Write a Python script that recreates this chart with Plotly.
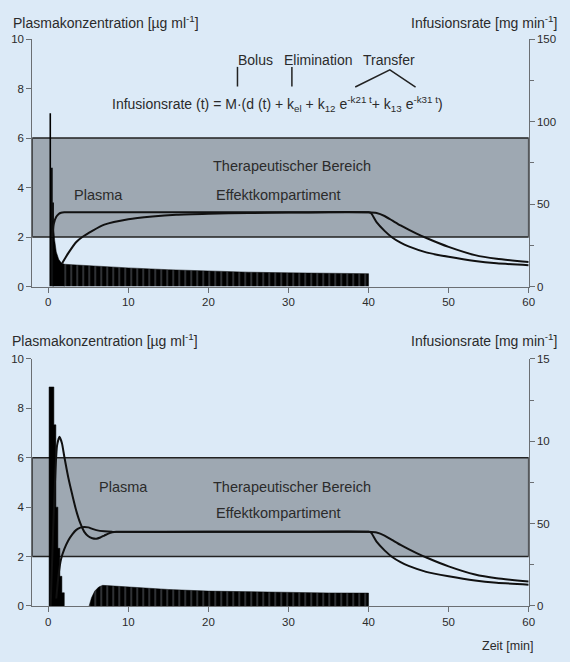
import plotly.graph_objects as go

# ---------------- data ----------------
# Top panel: bolus + infusion scheme
top_spike_t = [0.25, 0.45, 0.6]            # min
top_spike_rate = [105, 72, 51]              # mg/min
top_inf_t = [0.6, 0.8, 1.0, 1.3, 1.6, 2.0]
top_inf_rate = [40, 28, 21, 16.5, 14.5, 13.5]
top_cont_t = [2.0, 3, 5, 10, 15, 20, 25, 30, 35, 40, 40]
top_cont_rate = [13.5, 13.2, 12.6, 11.3, 10.2, 9.3, 8.7, 8.3, 8.0, 7.8, 0]

top_plasma_t = [0.5, 0.7, 1.0, 1.3, 1.6, 2.0, 5, 10, 20, 30, 40, 40.3, 41, 42, 43, 44, 45, 47.2, 50, 53.3, 56, 60]
top_plasma_c = [2.0, 2.55, 2.82, 2.93, 2.98, 3.0, 3.0, 3.0, 3.0, 3.0, 3.0, 2.97, 2.6, 2.25, 1.97, 1.77, 1.62, 1.38, 1.2, 1.03, 0.94, 0.86]
top_effect_t = [1.75, 2.5, 3.5, 4.25, 5.5, 7, 10, 13, 16, 20, 25, 30, 35, 40, 41, 42, 43, 44, 45, 46, 47.3, 50, 53.3, 56, 60]
top_effect_c = [0.95, 1.35, 1.8, 2.0, 2.25, 2.5, 2.72, 2.83, 2.9, 2.94, 2.97, 2.99, 3.0, 3.0, 2.97, 2.85, 2.66, 2.47, 2.3, 2.14, 1.95, 1.6, 1.27, 1.12, 0.99]

# Bottom panel: stepped loading infusion, pause, maintenance infusion
bot_load_t = [0.1, 0.7, 0.95, 1.2, 1.45, 1.7, 2.0]
bot_load_rate = [133, 110, 60, 35, 18, 8, 0]
bot_cont_t = [5.1, 5.4, 5.8, 6.3, 6.8, 7.5, 10, 15, 20, 25, 30, 35, 40, 40]
bot_cont_rate = [0, 5, 9, 11.5, 12.5, 12.3, 11.4, 10, 9, 8.5, 8.1, 7.9, 7.8, 0]

bot_plasma_t = [0.3, 0.6, 0.9, 1.1, 1.4, 1.7, 2.0, 2.5, 3.0, 3.5, 4.0, 4.5, 5.0, 5.5, 6.0, 6.5, 7.0, 7.5, 8.0, 8.5, 20, 30, 40, 40.3, 41, 42, 43, 44, 45, 47.2, 50, 53.3, 56, 60]
bot_plasma_c = [0.0, 3.0, 5.5, 6.5, 6.85, 6.6, 6.05, 5.2, 4.5, 3.85, 3.35, 3.0, 2.82, 2.74, 2.72, 2.77, 2.85, 2.93, 2.98, 3.0, 3.0, 3.0, 3.0, 2.97, 2.6, 2.25, 1.97, 1.77, 1.62, 1.38, 1.2, 1.03, 0.94, 0.86]
bot_effect_t = [1.0, 1.3, 1.6, 2.0, 2.5, 3.0, 3.5, 4.0, 4.5, 5.0, 5.5, 6.0, 7.0, 8.0, 20, 30, 40, 41, 42, 43, 44, 45, 46, 47.3, 50, 53.3, 56, 60]
bot_effect_c = [0.3, 1.3, 1.9, 2.3, 2.65, 2.9, 3.08, 3.17, 3.2, 3.18, 3.12, 3.07, 3.02, 3.0, 3.0, 3.0, 3.0, 2.97, 2.85, 2.66, 2.47, 2.3, 2.14, 1.95, 1.6, 1.27, 1.12, 0.99]

ther_low, ther_high = 2, 6
x_ticks = [0, 10, 20, 30, 40, 50, 60]
left_ticks = [0, 2, 4, 6, 8, 10]
right_tickvals = [0, 50, 100, 150]
right_minor = [25, 75, 125]
right_ticktext_top = ["0", "50", "100", "150"]
right_ticktext_bot = ["0", "50", "10", "15"]

# ---------------- styling ----------------
BG = "#dceaf7"
BOX = "#9ea8b2"
AX = "#6b6f73"
TXT = "#2b2b2b"
FONT = "Liberation Sans, Arial, sans-serif"

W, H = 570, 662
def px(x):
    return x / W
def py(y):
    return 1 - y / H

xdom = [px(32.6), px(534.3)]
top_dom = [py(285.7), py(33.7)]
bot_dom = [py(611), py(359.5)]

fig = go.Figure()

pattern = dict(shape="|", bgcolor="black", fgcolor=BG, size=6, solidity=0.14)

# ---- top panel: infusion (yaxis = right, mg/min) ----
sx, sy = [], []
for t, r in zip(top_spike_t, top_spike_rate):
    sx += [t, t, None]
    sy += [0, r, None]
fig.add_trace(go.Scatter(x=sx, y=sy, mode="lines", line=dict(color="black", width=1.6),
                         xaxis="x", yaxis="y", showlegend=False, hoverinfo="skip"))
fig.add_trace(go.Scatter(x=[top_inf_t[0]] + top_inf_t + [top_inf_t[-1]],
                         y=[0] + top_inf_rate + [0], mode="lines", fill="toself",
                         fillcolor="black", line=dict(color="black", width=0.5),
                         xaxis="x", yaxis="y", showlegend=False, hoverinfo="skip"))
fig.add_trace(go.Scatter(x=[top_cont_t[0]] + top_cont_t, y=[0] + top_cont_rate, mode="lines",
                         fill="toself", fillcolor="black", fillpattern=pattern,
                         line=dict(color="black", width=0.5),
                         xaxis="x", yaxis="y", showlegend=False, hoverinfo="skip"))
# ---- top panel: concentrations (yaxis2 = left) ----
fig.add_trace(go.Scatter(x=top_plasma_t, y=top_plasma_c, mode="lines", line=dict(color="#111", width=2, shape="spline", smoothing=0.6),
                         xaxis="x", yaxis="y2", showlegend=False, name="Plasma"))
fig.add_trace(go.Scatter(x=top_effect_t, y=top_effect_c, mode="lines", line=dict(color="#111", width=2, shape="spline", smoothing=0.6),
                         xaxis="x", yaxis="y2", showlegend=False, name="Effektkompartiment"))

# ---- bottom panel: infusion (yaxis3 = right) ----
fig.add_trace(go.Scatter(x=[bot_load_t[0]] + bot_load_t, y=[0] + bot_load_rate, mode="lines",
                         line=dict(color="black", width=0.5, shape="hv"), fill="toself", fillcolor="black",
                         xaxis="x2", yaxis="y3", showlegend=False, hoverinfo="skip"))
fig.add_trace(go.Scatter(x=bot_cont_t, y=bot_cont_rate, mode="lines", fill="toself", fillcolor="black",
                         fillpattern=pattern, line=dict(color="black", width=0.5),
                         xaxis="x2", yaxis="y3", showlegend=False, hoverinfo="skip"))
# ---- bottom panel: concentrations (yaxis4 = left) ----
fig.add_trace(go.Scatter(x=bot_plasma_t, y=bot_plasma_c, mode="lines", line=dict(color="#111", width=2, shape="spline", smoothing=0.6),
                         xaxis="x2", yaxis="y4", showlegend=False, name="Plasma"))
fig.add_trace(go.Scatter(x=bot_effect_t, y=bot_effect_c, mode="lines", line=dict(color="#111", width=2, shape="spline", smoothing=0.6),
                         xaxis="x2", yaxis="y4", showlegend=False, name="Effektkompartiment"))

tickfont = dict(family=FONT, size=11.5, color=TXT)
xax = dict(domain=xdom, range=[-2, 60], tickvals=x_ticks, ticks="outside", ticklen=5, tickcolor=AX,
           showline=True, linecolor=AX, linewidth=1, showgrid=False, zeroline=False, tickfont=tickfont,
           fixedrange=True)
left = dict(range=[0, 10], tickvals=left_ticks, ticks="outside", ticklen=5, tickcolor=AX, side="left",
            showline=True, linecolor=AX, linewidth=1, showgrid=False, zeroline=False, tickfont=tickfont)
right = dict(range=[0, 150], tickvals=right_tickvals, ticks="outside", ticklen=5, tickcolor=AX, side="right",
             showline=True, linecolor=AX, linewidth=1, showgrid=False, zeroline=False, tickfont=tickfont,
             minor=dict(tickvals=right_minor, ticks="outside", ticklen=4, tickcolor=AX, showgrid=False))

shapes = []
for yref in ["y2", "y4"]:
    xref = "x" if yref == "y2" else "x2"
    shapes.append(dict(type="rect", xref=xref, yref=yref, x0=-2, x1=60, y0=ther_low, y1=ther_high,
                       fillcolor=BOX, line=dict(color="#222", width=1.5), layer="below"))
# formula bracket marks
shapes.append(dict(type="line", xref="paper", yref="paper", x0=px(240), x1=px(240), y0=py(62), y1=py(82),
                   line=dict(color="#222", width=1.5)))
shapes.append(dict(type="line", xref="paper", yref="paper", x0=px(295), x1=px(295), y0=py(62), y1=py(82),
                   line=dict(color="#222", width=1.5)))
shapes.append(dict(type="path", xref="paper", yref="paper",
                   path=f"M {px(359)} {py(82.5)} L {px(394)} {py(65)} L {px(420)} {py(82.5)}",
                   line=dict(color="#222", width=1.5)))

def ann(text, x, y, xanchor="center", size=14, xref="paper", yref="paper"):
    return dict(text=text, x=x, y=y, xref=xref, yref=yref, xanchor=xanchor, yanchor="middle",
                showarrow=False, font=dict(family=FONT, size=size, color=TXT))

annotations = [
    ann("Plasmakonzentration [µg ml<sup>-1</sup>]", px(11), py(16), "left"),
    ann("Infusionsrate [mg min<sup>-1</sup>]", px(565), py(16), "right"),
    ann("Plasmakonzentration [µg ml<sup>-1</sup>]", px(10), py(340), "left"),
    ann("Infusionsrate [mg min<sup>-1</sup>]", px(565), py(340), "right"),
    ann("Zeit [min]", px(541), py(652), "right", size=12.5),
    ann("Bolus", px(258), py(55)),
    ann("Elimination", px(321), py(55)),
    ann("Transfer", px(393), py(55)),
    ann("Infusionsrate (t) = M·(d (t) + k<sub>el</sub> + k<sub>12</sub> e<sup>-k21 t</sup>+ k<sub>13</sub> e<sup>-k31 t</sup>)",
        px(280), py(100)),
    ann("Therapeutischer Bereich", 30.4, 4.86, xref="x", yref="y2", size=14.5),
    ann("Effektkompartiment", 28.7, 3.7, xref="x", yref="y2", size=14.5),
    ann("Plasma", 6.3, 3.7, xref="x", yref="y2", size=14.5),
    ann("Plasma", 9.4, 4.81, xref="x2", yref="y4", size=14.5),
    ann("Therapeutischer Bereich", 30.4, 4.81, xref="x2", yref="y4", size=14.5),
    ann("Effektkompartiment", 28.7, 3.75, xref="x2", yref="y4", size=14.5),
]

fig.update_layout(
    width=W, height=H, margin=dict(l=0, r=0, t=0, b=0),
    paper_bgcolor=BG, plot_bgcolor=BG,
    font=dict(family=FONT, color=TXT),
    xaxis=dict(**xax, anchor="y2"),
    yaxis=dict(**right, domain=top_dom, anchor="x", ticktext=right_ticktext_top),
    yaxis2=dict(**left, domain=top_dom, anchor="x", overlaying="y"),
    xaxis2=dict(**xax, anchor="y4"),
    yaxis3=dict(**right, domain=bot_dom, anchor="x2", ticktext=right_ticktext_bot),
    yaxis4=dict(**left, domain=bot_dom, anchor="x2", overlaying="y3"),
    shapes=shapes, annotations=annotations, showlegend=False,
)

fig.write_html("out.html")
